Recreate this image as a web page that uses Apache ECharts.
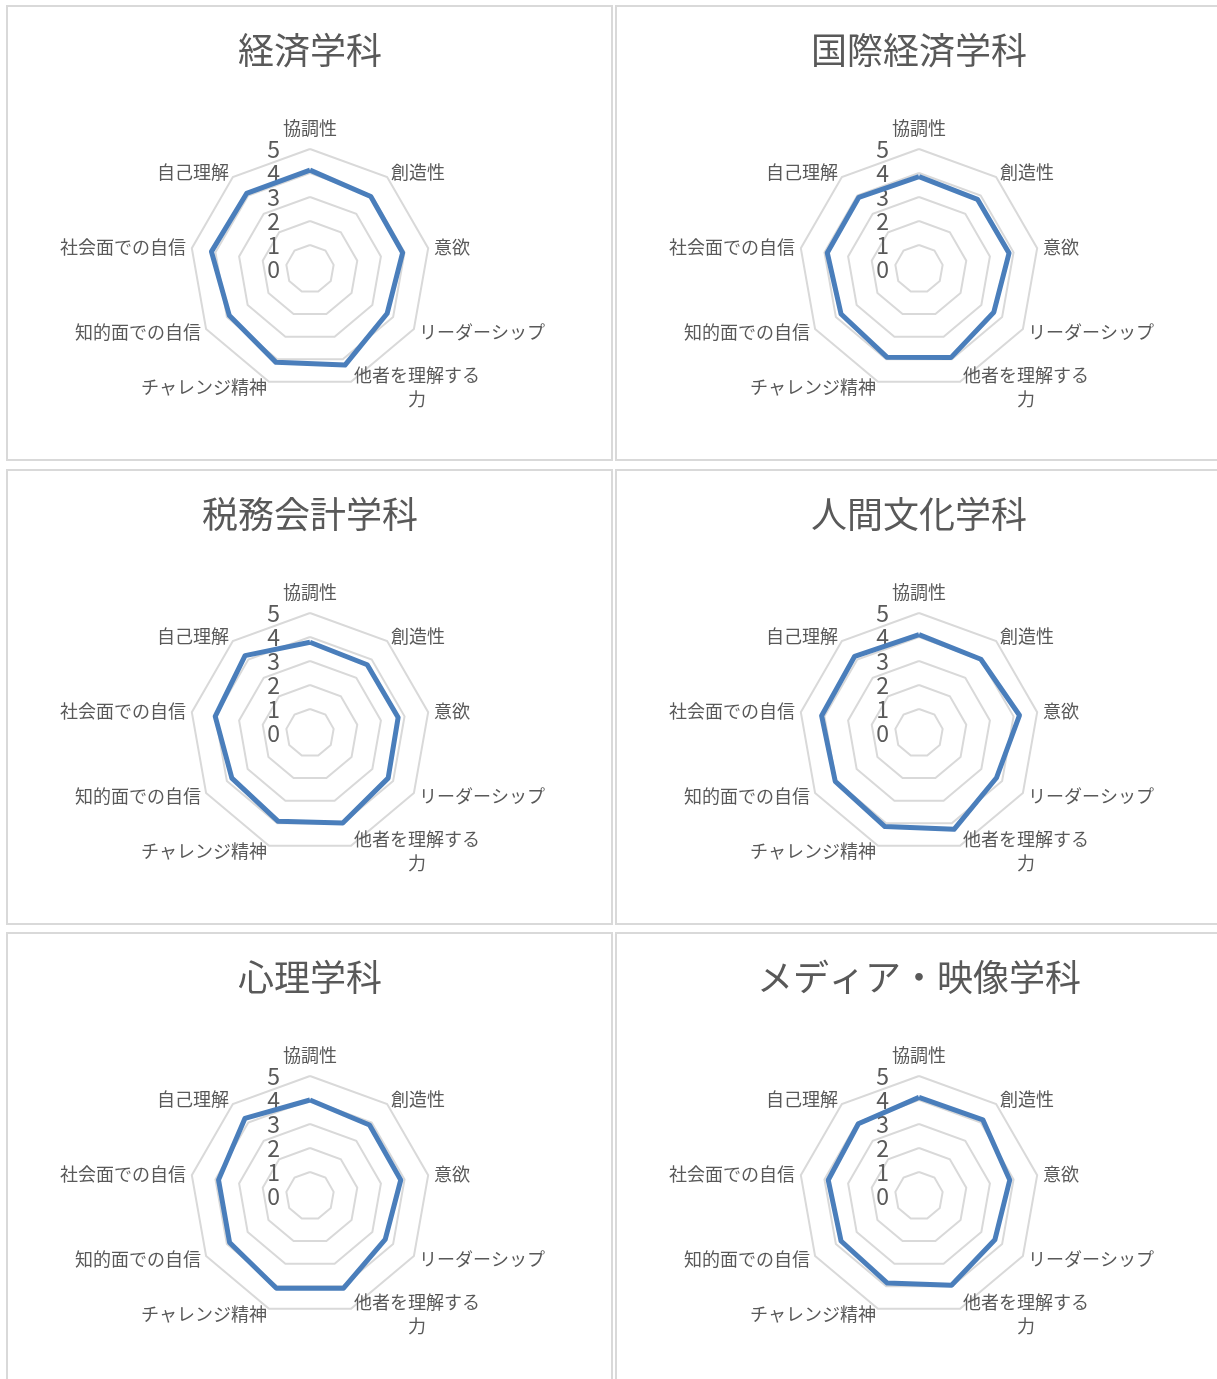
<!DOCTYPE html>
<html>
<head>
<meta charset="utf-8">
<script src="https://cdn.jsdelivr.net/npm/echarts@6/dist/echarts.min.js"></script>
<style>
html,body{margin:0;padding:0;background:#fff;}
#chart{width:1217px;height:1379px;}
</style>
</head>
<body>
<div id="chart"></div>
<script>
// Categories (clockwise from top)
const categories = ['協調性','創造性','意欲','リーダーシップ','他者を理解する力','チャレンジ精神','知的面での自信','社会面での自信','自己理解'];
const titles = ['経済学科','国際経済学科','税務会計学科','人間文化学科','心理学科','メディア・映像学科'];
const tickLabels = ['0','1','2','3','4','5'];

const economics      = [4.12, 3.94, 3.92, 3.71, 4.26, 4.14, 3.88, 4.17, 4.11];
const intlEconomics  = [3.85, 3.79, 3.81, 3.60, 3.92, 3.91, 3.75, 3.88, 3.90];
const taxAccounting  = [3.78, 3.71, 3.73, 3.76, 3.99, 3.91, 3.76, 4.01, 4.21];
const humanCulture   = [4.10, 4.01, 4.25, 3.73, 4.27, 4.15, 4.03, 4.12, 4.17];
const psychology     = [4.00, 3.86, 3.84, 3.62, 4.09, 4.09, 3.87, 3.87, 4.22];
const mediaImaging   = [4.11, 4.14, 3.84, 3.65, 3.96, 3.86, 3.75, 3.84, 3.93];

const seriesValues = [economics, intlEconomics, taxAccounting, humanCulture, psychology, mediaImaging];

// Layout
const panelX = [7, 616];
const panelY = [6, 470, 933];
const panelW = 605, panelH = 454;
const TEXT = '#595959';
const FONT = '"Noto Sans CJK JP", "Noto Sans", sans-serif';

// ECharts places indicators counter-clockwise; reverse (keeping first at top) to get clockwise order.
const order = [0, 8, 7, 6, 5, 4, 3, 2, 1];

const radars = [], series = [], title = [], graphic = [];
titles.forEach((t, i) => {
  const col = i % 2, row = Math.floor(i / 2);
  const px = panelX[col], py = panelY[row];
  const cx = px + 303, cy = py + 263;
  graphic.push({
    type: 'rect', silent: true, z: -1,
    shape: {x: px, y: py, width: panelW, height: panelH},
    style: {fill: '#fff', stroke: '#d9d9d9', lineWidth: 2}
  });
  title.push({
    text: t, left: cx - 5, top: py + 39, textAlign: 'center', textVerticalAlign: 'middle',
    textStyle: {fontSize: 36, fontWeight: 'normal', color: TEXT, fontFamily: FONT}
  });
  radars.push({
    center: [cx, cy], radius: 120, startAngle: 90, shape: 'polygon', splitNumber: 5,
    indicator: order.map((k, j) => {
      const ind = {name: categories[k], min: 0, max: 5};
      if (j === 0) ind.axisLabel = {show: true};
      return ind;
    }),
    axisName: {
      color: TEXT, fontSize: 18, fontFamily: FONT,
      formatter: function (name) {
        if (name === '他者を理解する力') return '{w|他者を理解する}\n{w|力}';
        return name;
      },
      rich: {w: {width: 128, align: 'center', fontSize: 18, color: TEXT, fontFamily: FONT, lineHeight: 24}}
    },
    nameGap: 6,
    axisLine: {show: false},
    axisTick: {show: false},
    axisLabel: {show: false, fontSize: 23, color: TEXT, margin: 30, fontFamily: FONT,
      formatter: v => tickLabels[Math.round(v)] ?? ''},
    splitLine: {lineStyle: {color: '#d9d9d9', width: 2}},
    splitArea: {show: false}
  });
  series.push({
    type: 'radar', radarIndex: i, symbol: 'none', silent: true,
    lineStyle: {color: '#4a7ebb', width: 5},
    data: [{value: order.map(k => seriesValues[i][k]), name: t}]
  });
});

const chart = echarts.init(document.getElementById('chart'), null, {renderer: 'canvas'});
chart.setOption({
  animation: false,
  backgroundColor: '#fff',
  title: title,
  radar: radars,
  series: series,
  graphic: graphic
});
</script>
</body>
</html>
